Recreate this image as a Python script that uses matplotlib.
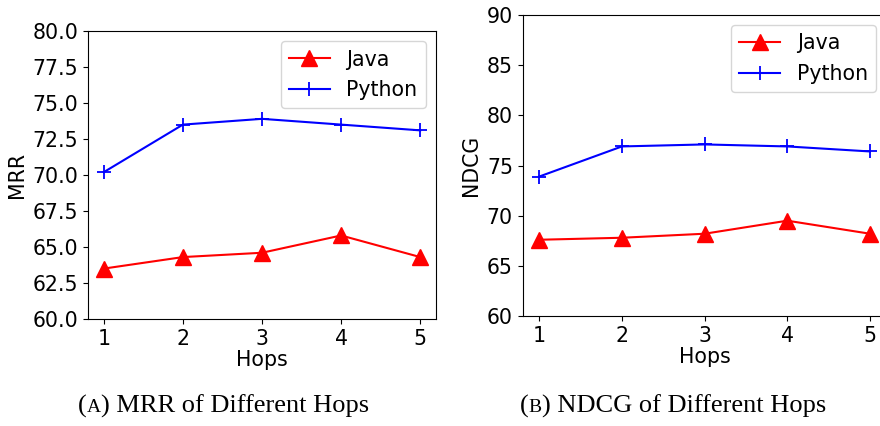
import numpy as np
from matplotlib import pyplot as plt

plt.rcParams['font.family'] = 'DejaVu Sans'

hops = [1, 2, 3, 4, 5]
mrr_java = [63.5, 64.3, 64.6, 65.8, 64.3]
mrr_python = [70.2, 73.5, 73.9, 73.5, 73.1]
ndcg_java = [67.6, 67.8, 68.2, 69.5, 68.2]
ndcg_python = [73.9, 76.9, 77.1, 76.9, 76.4]

fs = 14.8
fig = plt.figure(figsize=(8.8, 4.26), dpi=100)

ax1 = fig.add_axes([0.1, 0.2512, 0.3955, 0.676])
ax2 = fig.add_axes([0.594, 0.2582, 0.4134, 0.7066])


def draw(ax, java, python, ylabel, ylim, yticks, fmt):
    ax.plot(hops, java, color='red', marker='^', markersize=11, lw=1.5, label='Java')
    ax.plot(hops, python, color='blue', marker='+', markersize=10, mew=1.3, lw=1.5, label='Python')
    ax.set_xlim(0.8, 5.2)
    ax.set_ylim(*ylim)
    ax.set_xticks(hops)
    ax.set_yticks(yticks)
    ax.set_yticklabels([fmt.format(v) for v in yticks])
    ax.tick_params(labelsize=fs)
    ax.set_xlabel('Hops', fontsize=fs, labelpad=1)
    ax.set_ylabel(ylabel, fontsize=fs)
    ax.legend(loc='upper right', fontsize=fs)


draw(ax1, mrr_java, mrr_python, 'MRR', (60, 80), np.arange(60, 80.1, 2.5), '{:.1f}')
draw(ax2, ndcg_java, ndcg_python, 'NDCG', (60, 90), np.arange(60, 91, 5), '{:.0f}')


# caption with small-caps letter, built from pieces
def caption(xc, y, letter, rest):
    pieces = [('(', 19), (letter, 14), (') ' + rest, 19)]
    texts = [fig.text(0, y, s, family='Liberation Serif', fontsize=size, va='baseline')
             for s, size in pieces]
    fig.canvas.draw()
    r = fig.canvas.get_renderer()
    widths = [t.get_window_extent(r).width / fig.bbox.width for t in texts]
    x = xc - sum(widths) / 2
    for t, w in zip(texts, widths):
        t.set_x(x)
        x += w


caption(0.254, 0.032, 'A', 'MRR of Different Hops')
caption(0.765, 0.032, 'B', 'NDCG of Different Hops')

fig.savefig('out.png', dpi=100)
